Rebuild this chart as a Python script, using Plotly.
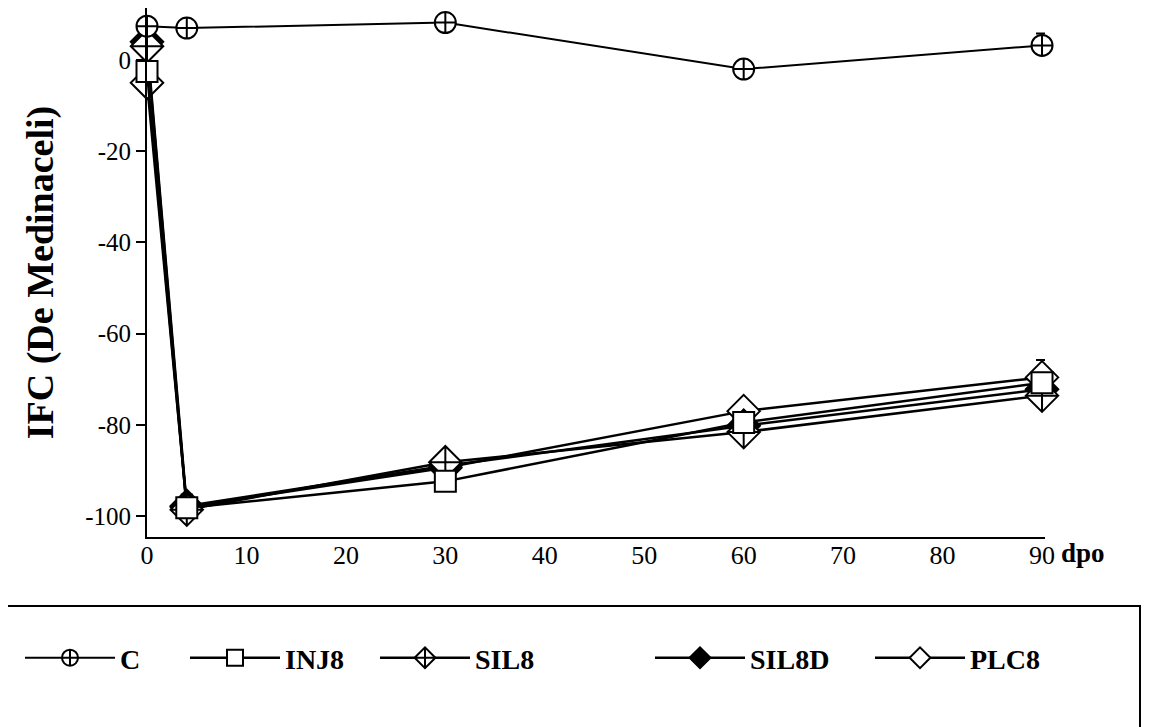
import plotly.graph_objects as go

days = [0, 4, 30, 60, 90]

series_names = ["C", "INJ8", "SIL8", "SIL8D", "PLC8"]
c_vals = [7.4, 7.0, 8.2, -2.0, 3.2]
inj8_vals = [-2.5, -98.2, -92.4, -79.5, -70.8]
sil8_vals = [3.0, -98.6, -88.2, -81.6, -73.6]
sil8d_vals = [4.0, -97.8, -89.0, -80.2, -72.2]
plc8_vals = [-5.0, -98.0, -89.4, -77.0, -69.6]

c_err = [0, 0, 0, 0, 2.6]
inj8_err = [1.5, 0, 0, 0, 0]
sil8_err = [0, 0, 0, 0, 0]
sil8d_err = [0, 2.5, 0, 0, 0]
plc8_err = [0, 0, 0, 0, 3.8]

y_ticks = [-100, -80, -60, -40, -20, 0]
y_ticklabels = ["-100", "-80", "-60", "-40", "-20", "0"]
x_ticks = [0, 10, 20, 30, 40, 50, 60, 70, 80, 90]

styles = {
    "C": dict(symbol="circle-cross", color="white", lw=2.0, size=21),
    "INJ8": dict(symbol="square", color="white", lw=2.5, size=21),
    "SIL8": dict(symbol="diamond-cross", color="white", lw=2.5, size=25),
    "SIL8D": dict(symbol="diamond", color="black", lw=2.5, size=25),
    "PLC8": dict(symbol="diamond", color="white", lw=2.5, size=25),
}

data = {"C": (c_vals, c_err), "INJ8": (inj8_vals, inj8_err), "SIL8": (sil8_vals, sil8_err),
        "SIL8D": (sil8d_vals, sil8d_err), "PLC8": (plc8_vals, plc8_err)}

draw_order = ["PLC8", "SIL8D", "SIL8", "INJ8", "C"]
legend_ids = {"C": "legend", "INJ8": "legend2", "SIL8": "legend3", "SIL8D": "legend4", "PLC8": "legend5"}
legend_x = {"C": 12, "INJ8": 177, "SIL8": 367, "SIL8D": 642, "PLC8": 862}

fig = go.Figure()
for name in draw_order:
    vals, err = data[name]
    st = styles[name]
    fig.add_trace(go.Scatter(
        x=days, y=vals, name=name, mode="lines+markers",
        legend=legend_ids[name],
        line=dict(color="black", width=st["lw"]),
        marker=dict(symbol=st["symbol"], size=st["size"], color=st["color"],
                    line=dict(color="black", width=2)),
        error_y=dict(type="data", array=err, arrayminus=[0] * len(err), symmetric=False,
                     color="black", thickness=2, width=6),
        cliponaxis=False,
    ))

serif = "Liberation Serif, Times New Roman, serif"
W, H = 1153, 727

legend_layout = {}
for name in series_names:
    legend_layout[legend_ids[name]] = dict(
        orientation="h", xref="container", yref="container",
        x=legend_x[name] / W, y=1 - 650 / H, xanchor="left", yanchor="middle",
        itemwidth=90,
        font=dict(family=serif, size=28, color="black", weight="bold"),
        bgcolor="rgba(0,0,0,0)")

# plot area in figure px (page has 8px body offset)
L, R_edge, B_edge = 139, 1037, 529

fig.update_layout(
    width=W, height=H,
    margin=dict(l=L, r=W - R_edge, t=0, b=H - B_edge, autoexpand=False),
    paper_bgcolor="white", plot_bgcolor="white",
    font=dict(family=serif, size=26, color="black"),
    showlegend=True,
    **legend_layout,
    xaxis=dict(range=[0, 90.3], tickvals=x_ticks, automargin=False,
               showgrid=False, zeroline=False, showline=True, linecolor="black", linewidth=2,
               ticks="", tickfont=dict(family=serif, size=26), ticklabelstandoff=-6),
    yaxis=dict(range=[-104.6, 11.4], tickvals=y_ticks, ticktext=y_ticklabels, automargin=False,
               showgrid=False, zeroline=False, showline=True, linecolor="black", linewidth=2,
               ticks="outside", ticklen=9, tickwidth=2, tickcolor="black",
               tickfont=dict(family=serif, size=25),
               title=dict(text="IFC (De Medinaceli)",
                          font=dict(family=serif, size=38, weight="bold"), standoff=20)),
    shapes=[dict(type="rect", xref="paper", yref="paper",
                 x0=(-6 - L) / (R_edge - L), x1=(1132 - L) / (R_edge - L),
                 y0=-(740 - B_edge) / B_edge, y1=-(598 - B_edge) / B_edge,
                 line=dict(color="black", width=2), fillcolor="rgba(0,0,0,0)")],
    annotations=[dict(text="<b>dpo</b>", xref="paper", yref="paper",
                      x=(1075 - L) / (R_edge - L), y=-(545 - B_edge) / B_edge,
                      xanchor="center", yanchor="middle", showarrow=False,
                      font=dict(family=serif, size=27))],
)

fig.write_html("out.html")
